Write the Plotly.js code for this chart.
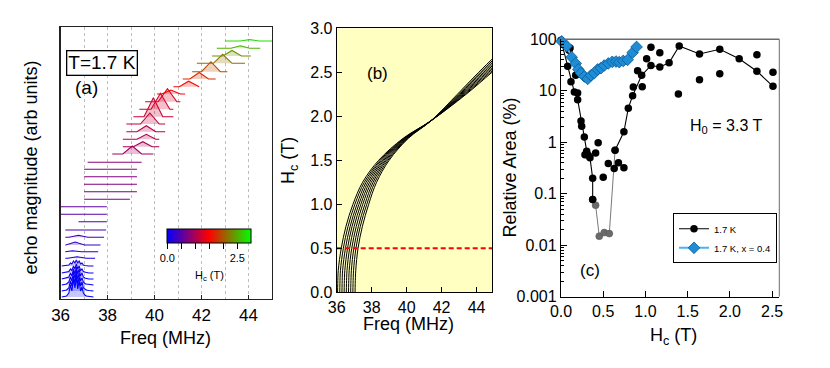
<!DOCTYPE html>
<html><head><meta charset="utf-8">
<script src="https://cdn.plot.ly/plotly-3.0.1.min.js"></script>
<style>html,body{margin:0;padding:0;background:#fff}#chart{width:830px;height:368px}</style>
</head><body><div id="chart"></div>
<script>
// ================= DATA =================
// ---- Panel (a): stacked spectra (offset baselines, Freq in MHz, amplitude in arb units) ----
// low-field cluster (multi-spike spectra) on a shared frequency grid
const clusterF = [36.05, 36.25, 36.35, 36.42, 36.48, 36.55, 36.61, 36.67, 36.73, 36.79, 36.85, 36.91, 36.97, 37.03, 37.1, 37.2, 37.4];
const clusterBase = [2, 8, 14, 20, 26, 33];
const clusterHc = [0.0, 0.02, 0.04, 0.06, 0.08, 0.1];
const clusterA = [
  [0, 1, 4, 12, 6, 18, 9, 20, 8, 16, 6, 10, 4, 2, 1, 0.5, 0],
  [0, 1, 3, 10, 5, 15, 8, 18, 7, 14, 5, 9, 3, 2, 1, 0.5, 0],
  [0, 1, 3, 8, 4, 13, 7, 15, 6, 12, 4, 7, 3, 1.5, 1, 0.5, 0],
  [0, 1, 2, 6, 3, 10, 5, 12, 5, 10, 3, 6, 2, 1, 0.5, 0, 0],
  [0, 0.5, 1.5, 4, 2.5, 7, 4, 9, 4, 7, 2.5, 4, 1.5, 1, 0.5, 0, 0],
  [0, 0.5, 1, 3, 2, 5, 3, 6, 3, 5, 2, 3, 1, 0.5, 0, 0, 0]
];
// single-peak spectra
const specBase = [40.7, 47.3, 54, 61.7, 69, 77.3, 84.7, 92.3, 99.7, 107.3, 114.7, 122.3, 129.7, 136.7,
                  145, 152.3, 159.7, 167.3, 175, 182.3, 189.7, 197.3, 205, 212.3, 220, 227.3, 235.7, 243, 250.7, 258];
const specLo   = [36.2, 36.2, 36.2, 36.2, 36.2, 36.76, 36.0, 36.0, 37.0, 37.0, 37.0, 37.0, 37.0, 37.15,
                  38.2, 38.65, 38.65, 38.8, 38.8, 39.1, 39.35, 39.6, 40.1, 40.8, 41.2, 41.6, 41.8, 42.45, 42.65, 43.0];
const specHi   = [37.47, 37.6, 37.7, 37.85, 37.94, 37.97, 37.97, 37.97, 38.95, 39.25, 39.25, 39.25, 39.25, 39.45,
                  39.95, 40.2, 40.2, 40.45, 40.45, 40.8, 40.8, 41.1, 41.3, 41.9, 42.6, 43.1, 43.85, 44.1, 44.5, 45.0];
const specPeak = [36.7, 36.5, 36.62, 36.76, 36.9, 37.2, 37.0, 37.0, 38.0, 38.2, 38.1, 38.2, 38.0, 38.3,
                  39.05, 39.5, 39.65, 39.65, 39.8, 39.95, 40.25, 40.55, 40.7, 41.45, 41.9, 42.4, 42.9, 43.3, 43.65, 44.05];
const specAmp  = [1.5, 1, 3, 2, 0.5, 0.3, 0.5, 0.5, 0.5, 0.5, 0.5, 0.5, 0.5, 0.5,
                  8, 5, 5, 6, 11, 19, 16, 13, 4, 5.5, 6.5, 10, 9, 5.5, 2.5, 1.5];
const specHc   = [0.2, 0.25, 0.3, 0.35, 0.4, 0.45, 0.5, 0.55, 0.7, 0.72, 0.74, 0.76, 0.78, 0.8,
                  0.95, 1.0, 1.05, 1.1, 1.15, 1.2, 1.25, 1.3, 1.45, 1.55, 1.75, 1.95, 2.15, 2.35, 2.55, 2.8];
const colorbarTickVals = [0, 0.5, 1.0, 1.5, 2.0, 2.5];
const colorbarTickText = ['0.0', '', '', '', '', '2.5'];

// ---- Panel (b): Hc vs frequency band (9 curves) ----
const bandH = [0, 0.1, 0.25, 0.5, 0.75, 1.0, 1.25, 1.5, 1.75, 1.95, 2.25, 2.5, 2.7];
const bandF = [
  [36.05, 36.06, 36.09, 36.26, 36.53, 36.93, 37.48, 38.40, 39.80, 41.4, 43.40, 44.88, 46.05],
  [36.175, 36.185, 36.215, 36.38, 36.65, 37.04, 37.58, 38.48, 39.84, 41.4, 43.34, 44.79, 45.94],
  [36.30, 36.31, 36.34, 36.50, 36.77, 37.16, 37.68, 38.55, 39.88, 41.4, 43.28, 44.69, 45.83],
  [36.425, 36.435, 36.465, 36.62, 36.88, 37.27, 37.78, 38.63, 39.91, 41.4, 43.21, 44.60, 45.71],
  [36.55, 36.56, 36.59, 36.74, 37.00, 37.38, 37.88, 38.70, 39.95, 41.4, 43.15, 44.50, 45.60],
  [36.675, 36.685, 36.715, 36.86, 37.12, 37.49, 37.98, 38.78, 39.99, 41.4, 43.09, 44.41, 45.49],
  [36.80, 36.81, 36.84, 36.98, 37.24, 37.61, 38.08, 38.85, 40.03, 41.4, 43.03, 44.31, 45.38],
  [36.925, 36.935, 36.965, 37.10, 37.35, 37.72, 38.18, 38.93, 40.06, 41.4, 42.96, 44.22, 45.26],
  [37.05, 37.06, 37.09, 37.22, 37.47, 37.83, 38.28, 39.00, 40.10, 41.4, 42.90, 44.12, 45.15]
];
const refLineF = [36, 45];
const refLineH = [0.5, 0.5];

// ---- Panel (c): relative area vs Hc ----
const blackLineH = [0.0, 0.079, 0.118, 0.158, 0.197, 0.237, 0.276, 0.304, 0.343, 0.375, 0.375];
const blackLineV = [96, 30, 15, 9.5, 6.7, 2.6, 1.27, 0.67, 0.5, 0.2, 0.077];
const grayLineH  = [0.375, 0.41, 0.453, 0.512, 0.572, 0.64];
const grayLineV  = [0.077, 0.06, 0.015, 0.0176, 0.0168, 0.7];
const blackLine2H = [0.64, 0.745, 0.797, 0.848, 0.955, 1.065, 1.17, 1.28, 1.40, 1.64, 1.88, 2.11, 2.32, 2.51];
const blackLine2V = [0.7, 1.6, 4.6, 8, 20, 31, 29, 35, 74, 52, 64, 42, 24, 12.2];
const blackDotsH = [0.055, 0.095, 0.107, 0.174, 0.197, 0.245, 0.284, 0.323, 0.41, 0.44, 0.50, 0.56, 0.63, 0.68, 0.745,
                    0.856, 0.907, 0.962, 1.014, 1.065, 1.17, 1.39, 1.64, 1.88, 2.32, 2.51];
const blackDotsV = [78, 61, 68, 20, 9.1, 2.05, 0.575, 0.56, 0.62, 0.98, 0.21, 0.385, 0.31, 0.4, 0.32,
                    11.8, 24.6, 12, 42, 70, 55, 8.7, 16.4, 21.5, 50, 23];
const blueH = [0.008, 0.067, 0.126, 0.174, 0.205, 0.237, 0.276, 0.316, 0.355, 0.394, 0.434, 0.473, 0.512, 0.56,
               0.607, 0.651, 0.69, 0.737, 0.789, 0.848, 0.895];
const blueV = [91, 74, 45, 34, 26, 22, 19, 17, 20, 22, 26, 27.6, 31, 34, 36.5, 37, 36, 38, 40, 55, 71];
const legendNames = ['1.7 K', '1.7 K, x = 0.4'];

// ================= STYLE HELPERS =================
const HC_MAX = 3.0;
function hcRGB(h) {
  const t = Math.max(0, Math.min(1, h / HC_MAX));
  if (t <= 0.5) { const f = t / 0.5; return [Math.round(255 * f), 0, Math.round(255 * (1 - f))]; }
  const f = (t - 0.5) / 0.5; return [Math.round(255 * (1 - f)), Math.round(255 * f), 0];
}
const rgb = (c, a) => a === undefined ? `rgb(${c[0]},${c[1]},${c[2]})` : `rgba(${c[0]},${c[1]},${c[2]},${a})`;
const FONT = 'Liberation Sans, Arial, sans-serif';
const PEAK_HALF_WIDTH = 0.4;

const traces = [];
clusterA.forEach((amps, i) => {
  const c = hcRGB(clusterHc[i]);
  traces.push({
    x: clusterF, y: amps.map(a => a + clusterBase[i]),
    xaxis: 'x', yaxis: 'y', mode: 'lines', fill: 'toself',
    fillcolor: rgb(c, 0.22), line: {color: rgb(c), width: 1.1},
    showlegend: false, hoverinfo: 'skip'
  });
});
specBase.forEach((b, i) => {
  const c = hcRGB(specHc[i]);
  const p = specPeak[i], w = PEAK_HALF_WIDTH;
  const xs = [specLo[i], Math.max(specLo[i], p - w), p, Math.min(specHi[i], p + w), specHi[i]];
  const ys = [b, b, b + specAmp[i], b, b];
  traces.push({
    x: xs, y: ys, xaxis: 'x', yaxis: 'y', mode: 'lines', fill: 'toself',
    fillcolor: rgb(c, 0.25), line: {color: rgb(c), width: 1.1},
    showlegend: false, hoverinfo: 'skip'
  });
});
traces.push({
  x: [36], y: [-100], xaxis: 'x', yaxis: 'y', mode: 'markers', showlegend: false, hoverinfo: 'skip',
  marker: {
    size: 1, opacity: 0, color: [0], cmin: 0, cmax: HC_MAX,
    colorscale: [[0, 'rgb(0,0,255)'], [0.5, 'rgb(255,0,0)'], [1, 'rgb(0,255,0)']],
    showscale: true,
    colorbar: {
      orientation: 'h', x: 209.3 / 830, xanchor: 'center', y: 1 - 229 / 368, yanchor: 'top',
      len: 84, lenmode: 'pixels', thickness: 14, thicknessmode: 'pixels',
      xpad: 0, ypad: 0, outlinewidth: 1, outlinecolor: '#000', borderwidth: 0,
      ticks: 'outside', ticklen: 6, tickcolor: '#000',
      tickvals: colorbarTickVals, ticktext: colorbarTickText,
      tickfont: {size: 11, family: FONT, color: '#000'}
    }
  }
});
bandF.forEach(f => {
  traces.push({
    x: f, y: bandH, xaxis: 'x2', yaxis: 'y2', mode: 'lines',
    line: {color: '#000', width: 1, shape: 'spline', smoothing: 1},
    showlegend: false, hoverinfo: 'skip'
  });
});
traces.push({
  x: refLineF, y: refLineH, xaxis: 'x2', yaxis: 'y2', mode: 'lines',
  line: {color: '#ff0000', width: 2, dash: '5px,3px'}, showlegend: false, hoverinfo: 'skip'
});
traces.push({
  x: grayLineH, y: grayLineV, xaxis: 'x3', yaxis: 'y3', mode: 'lines+markers',
  line: {color: '#7a7a7a', width: 1}, marker: {color: '#6a6a6a', size: 7, line: {color: '#555', width: 0.5}},
  showlegend: false, hoverinfo: 'skip', cliponaxis: false
});
traces.push({
  x: blackDotsH, y: blackDotsV, xaxis: 'x3', yaxis: 'y3', mode: 'markers',
  marker: {color: '#000', size: 7.5}, showlegend: false, hoverinfo: 'skip', cliponaxis: false
});
traces.push({
  x: blackLine2H, y: blackLine2V, xaxis: 'x3', yaxis: 'y3', mode: 'lines+markers',
  line: {color: '#000', width: 1.1}, marker: {color: '#000', size: 7.5},
  showlegend: false, hoverinfo: 'skip', cliponaxis: false
});
traces.push({
  x: blackLineH, y: blackLineV, xaxis: 'x3', yaxis: 'y3', mode: 'lines+markers', name: legendNames[0],
  line: {color: '#000', width: 1.1}, marker: {color: '#000', size: 7.5},
  showlegend: true, hoverinfo: 'skip', cliponaxis: false
});
traces.push({
  x: blueH, y: blueV, xaxis: 'x3', yaxis: 'y3', mode: 'lines+markers', name: legendNames[1],
  line: {color: '#4db3f0', width: 2},
  marker: {symbol: 'diamond', color: '#1f8dd6', size: 9, line: {color: '#0b5c94', width: 0.8}},
  showlegend: true, hoverinfo: 'skip', cliponaxis: false
});

const minorLog = [];
for (let e = -3; e < 2; e++) for (let m = 2; m <= 9; m++) minorLog.push(m * Math.pow(10, e));

const axisFont = s => ({size: s, family: FONT, color: '#000'});
function note(text, px, py, size, extra) {
  return Object.assign({text: text, x: px / 830, y: 1 - py / 368, xref: 'paper', yref: 'paper',
    xanchor: 'center', yanchor: 'middle', showarrow: false, font: axisFont(size)}, extra || {});
}
const layout = {
  width: 830, height: 368, margin: {l: 0, r: 0, t: 0, b: 0},
  paper_bgcolor: '#fff', plot_bgcolor: 'rgba(0,0,0,0)',
  font: {family: FONT, color: '#000'},
  showlegend: true,
  legend: {
    x: 673 / 830, y: 1 - 213.3 / 368, xanchor: 'left', yanchor: 'top',
    bgcolor: '#fff', bordercolor: '#000', borderwidth: 1, font: {size: 9.5, family: FONT},
    itemwidth: 30, tracegroupgap: 0
  },
  xaxis: {
    domain: [60.6 / 830, 272 / 830], range: [36, 45], anchor: 'y',
    tickvals: [36, 38, 40, 42, 44], ticks: 'inside', ticklen: 4, tickcolor: '#222',
    showline: true, linecolor: '#222', linewidth: 1.2, mirror: true, zeroline: false,
    showgrid: true, gridcolor: '#bdbdbd', griddash: 'dot', gridwidth: 1,
    minor: {dtick: 1, tick0: 36, showgrid: true, gridcolor: '#bdbdbd', griddash: 'dot', gridwidth: 1},
    tickfont: axisFont(17), fixedrange: true
  },
  yaxis: {
    domain: [1 - 299 / 368, 1 - 27 / 368], range: [0, 272], anchor: 'x',
    showticklabels: false, ticks: '', showgrid: false, zeroline: false,
    showline: true, linecolor: '#222', linewidth: 1.2, mirror: true, fixedrange: true
  },
  xaxis2: {
    domain: [336.7 / 830, 492.3 / 830], range: [36, 44.9], anchor: 'y2',
    tick0: 36, dtick: 2, ticks: 'inside', ticklen: 5, tickcolor: '#000',
    showline: true, linecolor: '#000', linewidth: 1, mirror: true, showgrid: false, zeroline: false,
    tickfont: axisFont(16), fixedrange: true
  },
  yaxis2: {
    domain: [1 - 292.3 / 368, 1 - 28.3 / 368], range: [0, 3], anchor: 'x2',
    tick0: 0, dtick: 0.5, tickformat: '.1f', ticks: 'inside', ticklen: 5, tickcolor: '#000',
    showline: true, linecolor: '#000', linewidth: 1, mirror: true, showgrid: false, zeroline: false,
    tickfont: axisFont(16), fixedrange: true
  },
  xaxis3: {
    domain: [561 / 830, 779.3 / 830], range: [0, 2.585], anchor: 'y3',
    tick0: 0, dtick: 0.5, tickformat: '.1f', ticks: 'inside', ticklen: 6, tickcolor: '#000',
    showline: true, linecolor: '#000', linewidth: 1.2, showgrid: false, zeroline: false,
    tickfont: axisFont(16), fixedrange: true
  },
  yaxis3: {
    domain: [1 - 296.7 / 368, 1 - 39.3 / 368], type: 'log', range: [-3, 2], anchor: 'x3',
    tickvals: [0.001, 0.01, 0.1, 1, 10, 100], ticktext: ['0.001', '0.01', '0.1', '1', '10', '100'],
    ticks: 'inside', ticklen: 6, tickcolor: '#000',
    minor: {tickvals: minorLog, ticks: 'inside', ticklen: 3, tickcolor: '#000', showgrid: false},
    showline: true, linecolor: '#000', linewidth: 1.2, showgrid: false, zeroline: false,
    tickfont: axisFont(16), fixedrange: true
  },
  shapes: [
    {type: 'rect', xref: 'x2 domain', yref: 'y2 domain', x0: 0, x1: 1, y0: 0, y1: 1,
     fillcolor: '#ffffc2', line: {width: 0}, layer: 'below'},
    {type: 'line', xref: 'x3 domain', yref: 'y3 domain', x0: 0, x1: 1, y0: 1, y1: 1,
     line: {color: '#6b6b6b', width: 1.5}},
    {type: 'line', xref: 'x3 domain', yref: 'y3 domain', x0: 1, x1: 1, y0: 0, y1: 1,
     line: {color: '#6b6b6b', width: 1}}
  ],
  annotations: [
    note('T=1.7 K', 102.2, 62.5, 19, {bordercolor: '#000', borderwidth: 1.3, borderpad: 1, bgcolor: '#fff'}),
    note('(a)', 86.3, 87, 19),
    note('H<sub>c</sub> (T)', 209, 276, 11),
    note('(b)', 377, 73, 17),
    note('(c)', 590, 270, 17),
    note('H<sub>0</sub> = 3.3 T', 726, 127, 16),
    note('echo magnitude (arb units)', 30, 167.5, 18, {textangle: -90}),
    note('Freq (MHz)', 165.5, 338, 18),
    note('H<sub>c</sub> (T)', 289, 161, 18, {textangle: -90}),
    note('Freq (MHz)', 408, 324, 18),
    note('Relative Area (%)', 509, 167.5, 18, {textangle: -90}),
    note('H<sub>c</sub> (T)', 673, 336, 18)
  ]
};
Plotly.newPlot('chart', traces, layout, {displayModeBar: false, staticPlot: true});
</script></body></html>
